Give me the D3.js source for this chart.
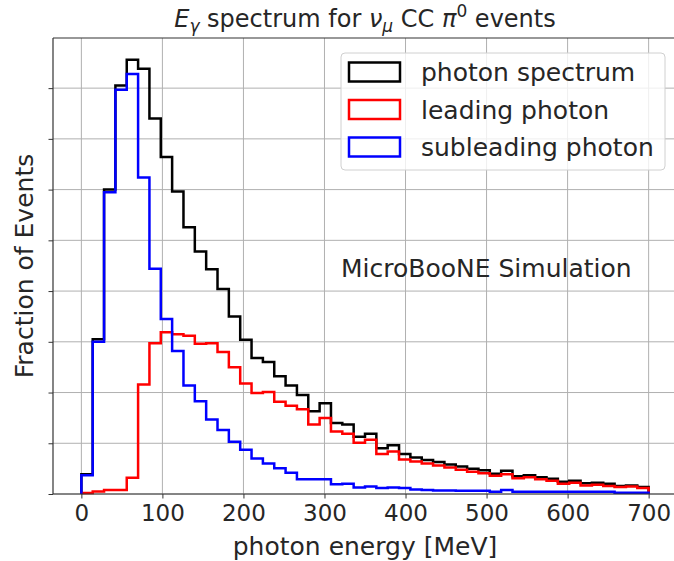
<!DOCTYPE html>
<html><head><meta charset="utf-8">
<script src="https://cdn.jsdelivr.net/npm/d3@7"></script>
<style>
body{margin:0;background:#fff}
svg{display:block}
text{font-family:"DejaVu Sans",sans-serif;fill:#262626}
</style>
</head><body>
<svg id="chart" width="674" height="561"></svg>
<script>
// ---- data (fraction of events, in units of 1e-2), 50 bins of 14 MeV from 0 to 700 ----
const binWidth = 14;
const binStart = 0;
const photonSpectrum = [0.39,3.05,6.00,8.05,8.56,8.38,7.40,6.64,5.96,5.26,
  4.78,4.43,4.04,3.50,3.04,2.68,2.60,2.32,2.14,1.95,
  1.63,1.79,1.40,1.37,1.13,1.19,0.90,0.96,0.79,0.72,
  0.67,0.63,0.58,0.54,0.50,0.47,0.40,0.46,0.35,0.37,
  0.33,0.30,0.24,0.26,0.21,0.22,0.20,0.16,0.17,0.14];
const leadingPhoton = [0.02,0.05,0.08,0.08,0.32,2.16,2.97,3.19,3.15,3.12,
  2.96,2.97,2.80,2.50,2.18,1.99,2.01,1.82,1.74,1.67,
  1.37,1.50,1.23,1.19,1.01,1.07,0.79,0.84,0.68,0.64,
  0.60,0.56,0.52,0.48,0.44,0.41,0.36,0.39,0.31,0.33,
  0.29,0.26,0.20,0.22,0.17,0.18,0.16,0.14,0.15,0.12];
const subleadingPhoton = [0.37,3.00,5.95,7.97,8.28,6.24,4.44,3.45,2.82,2.14,
  1.83,1.47,1.26,1.03,0.87,0.70,0.60,0.51,0.42,0.29,
  0.29,0.29,0.19,0.20,0.13,0.15,0.12,0.13,0.12,0.09,
  0.08,0.07,0.07,0.065,0.065,0.065,0.045,0.08,0.045,0.045,
  0.045,0.045,0.045,0.045,0.045,0.045,0.045,0.025,0.025,0.025];
const seriesNames = ["photon spectrum","leading photon","subleading photon"];
const seriesColors = ["#000000","#ff0000","#0000ff"];
const xTicks = [0,100,200,300,400,500,600,700];
const yTicks = [0,1,2,3,4,5,6,7,8];
const annotation = "MicroBooNE Simulation";

// ---- layout ----
const L = 53, R = 677, T = 38, B = 494;
const svg = d3.select("#chart");
const allSeries = [photonSpectrum, leadingPhoton, subleadingPhoton];

const x = d3.scaleLinear().domain([-35, 735]).range([L, R]);
const y = d3.scaleLinear().domain([0, d3.max(photonSpectrum) * 1.05]).range([B, T]);

// grid
const grid = svg.append("g");
grid.selectAll(".vg").data(xTicks).join("line")
  .attr("x1", d => x(d)).attr("x2", d => x(d)).attr("y1", T).attr("y2", B)
  .attr("stroke", "#b0b0b0").attr("stroke-width", 1);
grid.selectAll(".hg").data(yTicks).join("line")
  .attr("x1", L).attr("x2", R).attr("y1", d => y(d)).attr("y2", d => y(d))
  .attr("stroke", "#b0b0b0").attr("stroke-width", 1);

// histograms (step)
function stepPoints(vals) {
  const pts = [[binStart, 0]];
  vals.forEach((v, i) => {
    const a = binStart + i * binWidth, b = a + binWidth;
    pts.push([a, v], [b, v]);
  });
  pts.push([binStart + vals.length * binWidth, 0]);
  return pts;
}
const line = d3.line().x(d => x(d[0])).y(d => y(d[1]));
allSeries.forEach((s, i) => {
  svg.append("path").attr("d", line(stepPoints(s)))
    .attr("fill", "none").attr("stroke", seriesColors[i])
    .attr("stroke-width", 2.5).attr("stroke-linejoin", "miter");
});

// axes
const xAxis = svg.append("g").attr("transform", `translate(0,${B})`)
  .call(d3.axisBottom(x).tickValues(xTicks).tickSize(4.5).tickPadding(6).tickSizeOuter(0));
xAxis.select(".domain").remove();
xAxis.selectAll("line").attr("stroke", "#333");
xAxis.selectAll("text").attr("font-size", 23).attr("font-family", "DejaVu Sans").attr("fill", "#262626");

const yAxis = svg.append("g").attr("transform", `translate(${L},0)`)
  .call(d3.axisLeft(y).tickValues(yTicks).tickSize(4.5).tickFormat("").tickSizeOuter(0));
yAxis.select(".domain").remove();
yAxis.selectAll("line").attr("stroke", "#333");

// spines
const sp = svg.append("g").attr("stroke", "#333").attr("stroke-width", 1.2);
sp.append("line").attr("x1", L).attr("x2", L).attr("y1", T).attr("y2", B);
sp.append("line").attr("x1", L).attr("x2", R).attr("y1", T).attr("y2", T);
sp.append("line").attr("x1", L).attr("x2", R).attr("y1", B).attr("y2", B);

// axis labels
svg.append("text").attr("x", (L + R) / 2).attr("y", 555).attr("text-anchor", "middle")
  .attr("font-size", 25).text("photon energy [MeV]");
svg.append("text").attr("transform", `translate(33,${(T + B) / 2}) rotate(-90)`)
  .attr("text-anchor", "middle").attr("font-size", 25).text("Fraction of Events");

// title with math
const title = svg.append("text").attr("x", (L + R) / 2).attr("y", 27)
  .attr("text-anchor", "middle").attr("font-size", 24);
title.append("tspan").attr("font-style", "italic").text("E");
title.append("tspan").attr("font-style", "italic").attr("font-size", 17).attr("dy", 5).text("γ");
title.append("tspan").attr("dy", -5).text(" spectrum for ");
title.append("tspan").attr("font-style", "italic").text("ν");
title.append("tspan").attr("font-style", "italic").attr("font-size", 17).attr("dy", 5).text("μ");
title.append("tspan").attr("dy", -5).text(" CC ");
title.append("tspan").attr("font-style", "italic").text("π");
title.append("tspan").attr("font-size", 17).attr("dy", -10).text("0");
title.append("tspan").attr("dy", 10).text(" events");

// annotation
svg.append("text").attr("x", 341).attr("y", 277).attr("font-size", 25).text(annotation);

// legend
const lg = svg.append("g");
lg.append("rect").attr("x", 341).attr("y", 53).attr("width", 324).attr("height", 117)
  .attr("rx", 4).attr("fill", "#fff").attr("fill-opacity", 0.8)
  .attr("stroke", "#d0d0d0").attr("stroke-width", 1);
seriesNames.forEach((n, i) => {
  const cy = 72 + i * 37.5;
  lg.append("rect").attr("x", 349).attr("y", cy - 9.5).attr("width", 51).attr("height", 19)
    .attr("fill", "none").attr("stroke", seriesColors[i]).attr("stroke-width", 2.5);
  lg.append("text").attr("x", 421).attr("y", cy + 9).attr("font-size", 25).text(n);
});
</script>
</body></html>
